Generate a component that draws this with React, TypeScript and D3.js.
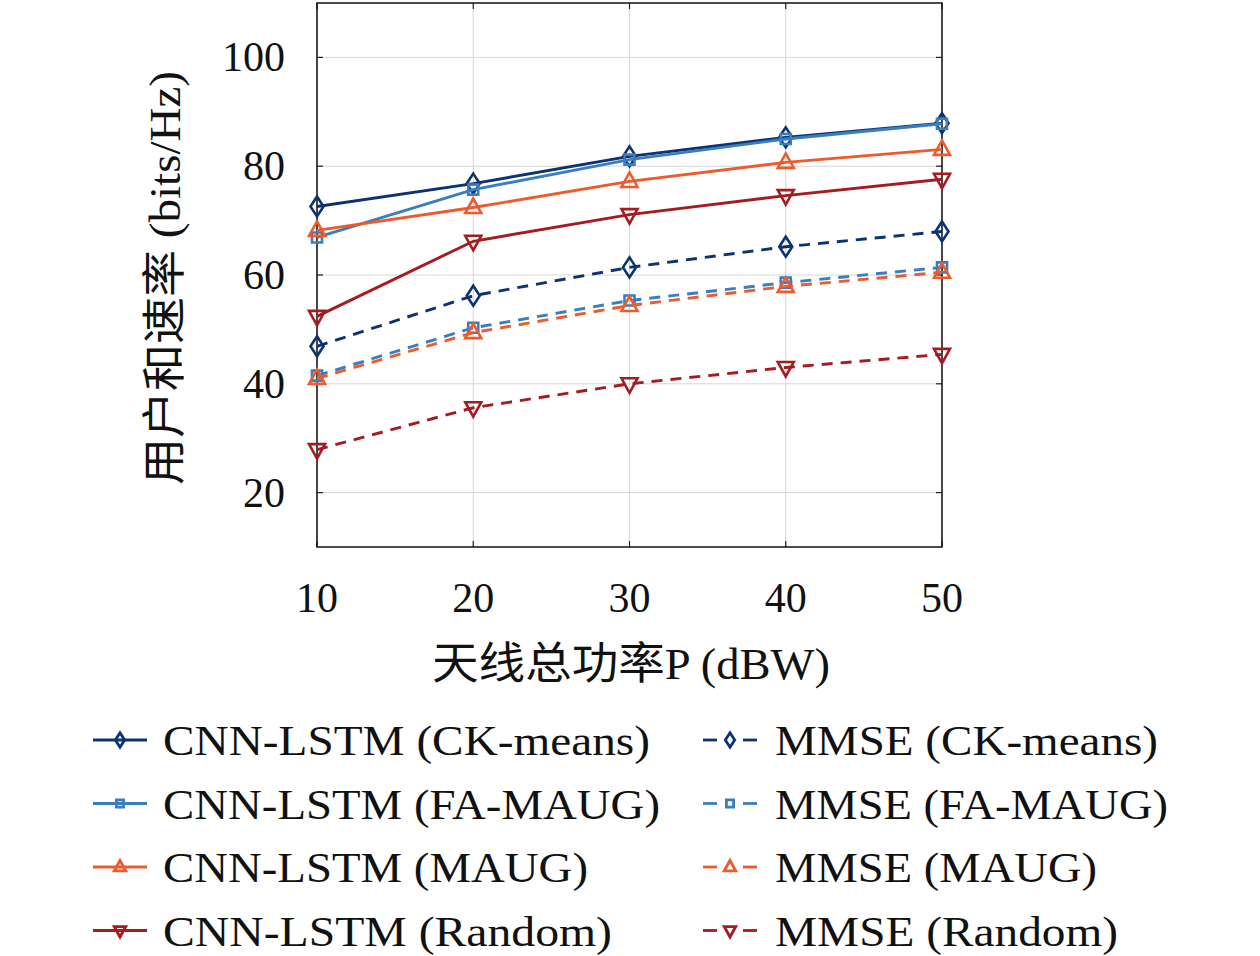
import * as d3 from 'd3';

const powers = [10, 20, 30, 40, 50];
const yTicks = [20, 40, 60, 80, 100];

const cnnCK = [72.6, 76.8, 81.8, 85.3, 87.9];
const cnnFA = [66.9, 75.7, 81.2, 85.0, 87.8];
const cnnMAUG = [68.2, 72.4, 77.2, 80.7, 83.1];
const cnnRandom = [52.4, 66.2, 71.1, 74.6, 77.6];
const mmseCK = [46.9, 56.2, 61.4, 65.2, 68.0];
const mmseFA = [41.5, 50.3, 55.3, 58.6, 61.4];
const mmseMAUG = [41.0, 49.4, 54.4, 57.9, 60.5];
const mmseRandom = [27.9, 35.6, 40.0, 43.0, 45.4];

const labels = [
  'CNN-LSTM (CK-means)', 'CNN-LSTM (FA-MAUG)', 'CNN-LSTM (MAUG)', 'CNN-LSTM (Random)',
  'MMSE (CK-means)', 'MMSE (FA-MAUG)', 'MMSE (MAUG)', 'MMSE (Random)',
];
const labelWidths = [487, 497, 425, 449, 383, 393, 322, 343];

const C_CK = '#0b3272';
const C_FA = '#3a7ebf';
const C_MAUG = '#ee5a2c';
const C_RND = '#a51b1f';

type Marker = 'diamond' | 'square' | 'up' | 'down';
type Series = { label: string; values: number[]; color: string; marker: Marker; dashed: boolean; textW: number };

const series: Series[] = [
  { label: labels[0], values: cnnCK, color: C_CK, marker: 'diamond', dashed: false, textW: labelWidths[0] },
  { label: labels[1], values: cnnFA, color: C_FA, marker: 'square', dashed: false, textW: labelWidths[1] },
  { label: labels[2], values: cnnMAUG, color: C_MAUG, marker: 'up', dashed: false, textW: labelWidths[2] },
  { label: labels[3], values: cnnRandom, color: C_RND, marker: 'down', dashed: false, textW: labelWidths[3] },
  { label: labels[4], values: mmseCK, color: C_CK, marker: 'diamond', dashed: true, textW: labelWidths[4] },
  { label: labels[5], values: mmseFA, color: C_FA, marker: 'square', dashed: true, textW: labelWidths[5] },
  { label: labels[6], values: mmseMAUG, color: C_MAUG, marker: 'up', dashed: true, textW: labelWidths[6] },
  { label: labels[7], values: mmseRandom, color: C_RND, marker: 'down', dashed: true, textW: labelWidths[7] },
];

const FONT = '"Liberation Serif", "DejaVu Serif", serif';
const CJK = '"Noto Sans CJK SC", "Liberation Serif", serif';

function markerPath(m: Marker, s = 1): string {
  if (m === 'diamond') return `M0,${-10 * s}L${6.5 * s},0L0,${10 * s}L${-6.5 * s},0Z`;
  if (m === 'square') return `M${-5 * s},${-5 * s}h${10 * s}v${10 * s}h${-10 * s}Z`;
  if (m === 'up') return `M0,${-9 * s}L${8 * s},${5.5 * s}L${-8 * s},${5.5 * s}Z`;
  return `M0,${9 * s}L${8 * s},${-5.5 * s}L${-8 * s},${-5.5 * s}Z`;
}

export default function App() {
  const W = 1260, H = 956;
  const L = 317, R = 942, T = 3, B = 547;
  const x = d3.scaleLinear().domain([10, 50]).range([L, R]);
  const y = d3.scaleLinear().domain([10, 110]).range([B, T]);
  const line = d3.line<number>().x((_, i) => x(powers[i])).y(d => y(d));

  return (
    <svg width={W} height={H} style={{ position: 'absolute', left: 0, top: 0, background: '#fff' }}>
      {/* grid */}
      {powers.map(p => (
        <line key={'gx' + p} x1={x(p)} x2={x(p)} y1={T} y2={B} stroke="#d6d6d6" strokeWidth={1} />
      ))}
      {yTicks.map(v => (
        <line key={'gy' + v} x1={L} x2={R} y1={y(v)} y2={y(v)} stroke="#d6d6d6" strokeWidth={1} />
      ))}
      {/* ticks */}
      {yTicks.map(v => (
        <g key={'ty' + v}>
          <line x1={L} x2={L + 6} y1={y(v)} y2={y(v)} stroke="#222" strokeWidth={1.2} />
          <line x1={R - 6} x2={R} y1={y(v)} y2={y(v)} stroke="#222" strokeWidth={1.2} />
          <text x={285} y={y(v) + 14} textAnchor="end" fontFamily={FONT} fontSize={42} fill="#111">{v}</text>
        </g>
      ))}
      {powers.map(p => (
        <g key={'tx' + p}>
          <line x1={x(p)} x2={x(p)} y1={B} y2={B - 6} stroke="#222" strokeWidth={1.2} />
          <line x1={x(p)} x2={x(p)} y1={T} y2={T + 6} stroke="#222" strokeWidth={1.2} />
          <text x={x(p)} y={612} textAnchor="middle" fontFamily={FONT} fontSize={42} fill="#111">{p}</text>
        </g>
      ))}
      <rect x={L} y={T} width={R - L} height={B - T} fill="none" stroke="#111" strokeWidth={1.5} />

      {/* series */}
      {series.map((s, si) => (
        <g key={'s' + si}>
          <path d={line(s.values)!} fill="none" stroke={s.color} strokeWidth={2.9}
            strokeDasharray={s.dashed ? '11,8' : undefined} />
          {s.values.map((v, i) => (
            <path key={i} d={markerPath(s.marker)} transform={`translate(${x(powers[i])},${y(v)})`}
              fill="none" stroke={s.color} strokeWidth={2.6} />
          ))}
        </g>
      ))}

      {/* axis labels */}
      <text transform="translate(180,278) rotate(-90)" textAnchor="middle" fontSize={44} fill="#111"
        textLength={414} lengthAdjust="spacingAndGlyphs">
        <tspan fontFamily={CJK}>用户和速率</tspan>
        <tspan fontFamily={FONT}> (bits/Hz)</tspan>
      </text>
      <text x={631} y={679} textAnchor="middle" fontSize={44} fill="#111"
        textLength={398} lengthAdjust="spacingAndGlyphs">
        <tspan fontFamily={CJK}>天线总功率</tspan>
        <tspan fontFamily={FONT}>P (dBW)</tspan>
      </text>

      {/* legend */}
      {series.map((s, si) => {
        const col = si < 4 ? 0 : 1;
        const row = si % 4;
        const cy = 740 + row * 63.5;
        const lx = col === 0 ? 93 : 703;
        const tx = col === 0 ? 163 : 775;
        return (
          <g key={'lg' + si}>
            {s.dashed ? (
              <>
                <line x1={lx} x2={lx + 14} y1={cy} y2={cy} stroke={s.color} strokeWidth={2.8} />
                <line x1={lx + 40} x2={lx + 54} y1={cy} y2={cy} stroke={s.color} strokeWidth={2.8} />
              </>
            ) : (
              <line x1={lx} x2={lx + 54} y1={cy} y2={cy} stroke={s.color} strokeWidth={2.8} />
            )}
            <path d={markerPath(s.marker, 0.72)} transform={`translate(${lx + 27},${cy})`}
              fill="none" stroke={s.color} strokeWidth={2.8} />
            <text x={tx} y={cy + 15} fontFamily={FONT} fontSize={42} fill="#111"
              textLength={s.textW} lengthAdjust="spacingAndGlyphs">{s.label}</text>
          </g>
        );
      })}
    </svg>
  );
}
